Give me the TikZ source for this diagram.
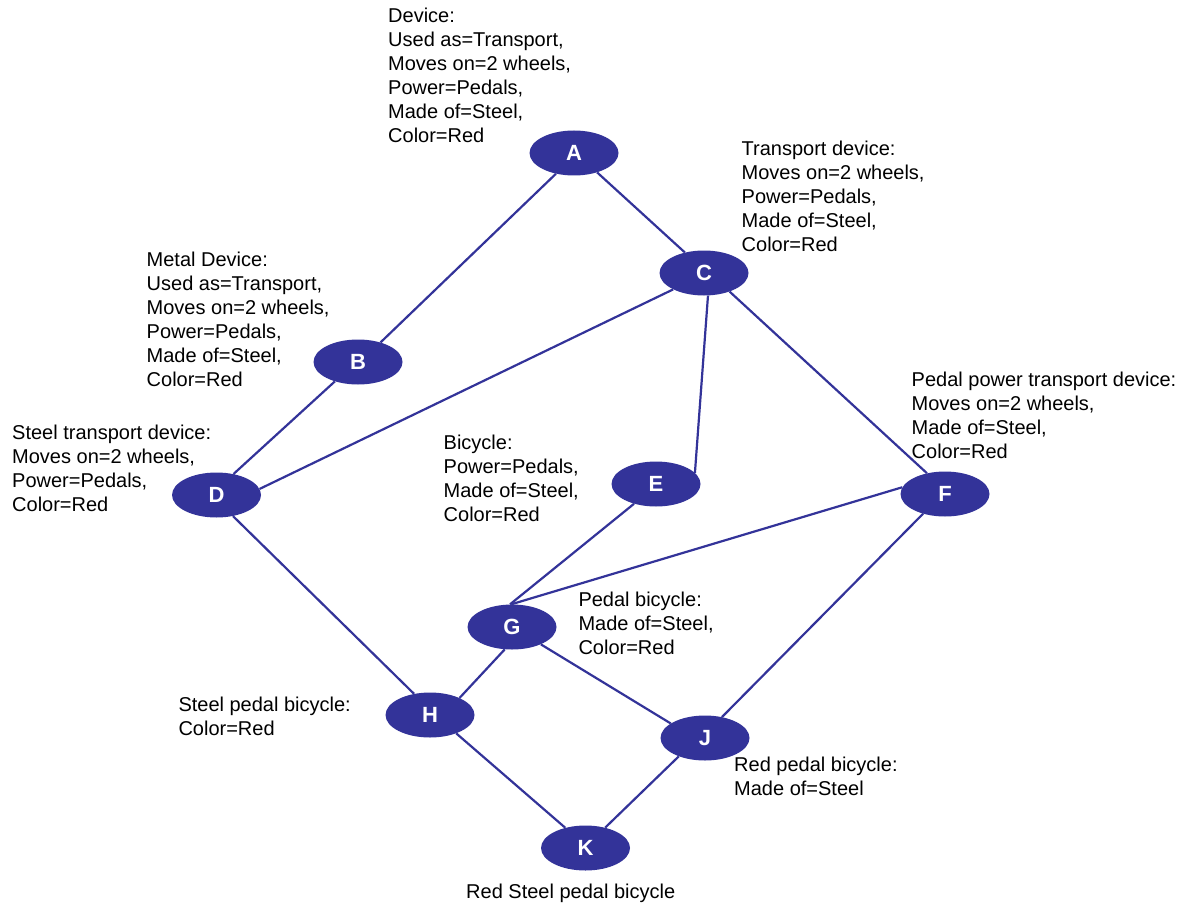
\documentclass[tikz,border=0pt]{standalone}
\usepackage{fontspec}
\setmainfont{Liberation Sans}
\usetikzlibrary{shapes.geometric}
\definecolor{nodeblue}{HTML}{333399}
\tikzset{
  nd/.style={ellipse, fill=nodeblue, draw=none, minimum width=89pt, minimum height=45pt, inner sep=0pt,
    text=white, font=\fontsize{22}{26}\selectfont\bfseries},
  lbl/.style={anchor=north west, inner sep=0pt, align=left, text=black, font=\fontsize{20}{24}\selectfont},
  link/.style={draw=nodeblue, line width=2.2pt}
}
\newcommand{\fs}{\rule{0pt}{16pt}}
\begin{document}
\begin{tikzpicture}[x=1pt,y=-1pt]
\useasboundingbox[fill=white] (0,0) rectangle (1190,904);
% nodes
\node[nd] (A) at (574,153) {A};
\node[nd] (B) at (358,362) {B};
\node[nd] (C) at (704,273) {C};
\node[nd] (D) at (216.5,495) {D};
\node[nd] (E) at (656,484) {E};
\node[nd] (F) at (945,494) {F};
\node[nd] (G) at (512,627) {G};
\node[nd] (H) at (430,715) {H};
\node[nd] (J) at (705,738) {J};
\node[nd] (K) at (585.5,848) {K};
% labels
\node[lbl] (lA) at (388,6.7) {\fs Device:\\Used as=Transport,\\Moves on=2 wheels,\\Power=Pedals,\\Made of=Steel,\\Color=Red};
\node[lbl] (lC) at (741.5,139) {\fs Transport device:\\Moves on=2 wheels,\\Power=Pedals,\\Made of=Steel,\\Color=Red};
\node[lbl] (lB) at (146.5,250) {\fs Metal Device:\\Used as=Transport,\\Moves on=2 wheels,\\Power=Pedals,\\Made of=Steel,\\Color=Red};
\node[lbl] (lD) at (12,423) {\fs Steel transport device:\\Moves on=2 wheels,\\Power=Pedals,\\Color=Red};
\node[lbl] (lF) at (911.5,370) {\fs Pedal power transport device:\\Moves on=2 wheels,\\Made of=Steel,\\Color=Red};
\node[lbl] (lE) at (443.5,433.3) {\fs Bicycle:\\Power=Pedals,\\Made of=Steel,\\Color=Red};
\node[lbl] (lG) at (578.3,590.7) {\fs Pedal bicycle:\\Made of=Steel,\\Color=Red};
\node[lbl] (lH) at (178.3,695.7) {\fs Steel pedal bicycle:\\Color=Red};
\node[lbl] (lJ) at (734,755.7) {\fs Red pedal bicycle:\\Made of=Steel};
\node[lbl] (lK) at (466,882.3) {\fs Red Steel pedal bicycle};
% connectors
\draw[link] (A.-131) -- (B.41);
\draw[link] (A.-40) -- (C.133);
\draw[link] (C.-152) -- (D.8);
\draw[link] (C.-80) -- (E.16);
\draw[link] (C.-36) -- (F.131);
\draw[link] (B.-140) -- (D.51);
\draw[link] (D.-52) -- (H.127);
\draw[link] (E.-138) -- (G.95);
\draw[link] (F.171) -- (G.92);
\draw[link] (F.-138) -- (J.51);
\draw[link] (G.-108) -- (H.30);
\draw[link] (G.-31) -- (J.157);
\draw[link] (H.-35) -- (K.135);
\draw[link] (J.-145) -- (K.46);
\end{tikzpicture}
\end{document}
